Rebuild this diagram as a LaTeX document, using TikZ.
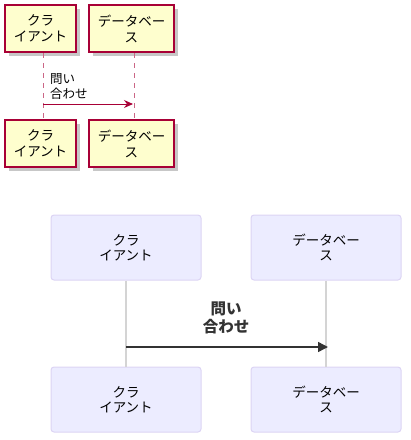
\documentclass[tikz,border=0pt]{standalone}
\usepackage{fontspec}
\setmainfont{Noto Sans CJK JP}
\usetikzlibrary{arrows.meta}
\definecolor{pubor}{HTML}{A80036}
\definecolor{pufill}{HTML}{FEFECE}
\definecolor{mefill}{HTML}{ECECFF}
\definecolor{meline}{HTML}{DCD4F4}
\definecolor{megray}{HTML}{D4D4D4}
\definecolor{medark}{HTML}{333333}
\tikzset{
  puact/.style={draw=pubor, line width=1.3pt, fill=pufill, align=center, font=\fontsize{13.5}{16}\selectfont, inner sep=0pt},
  pulife/.style={draw=pubor!60, line width=1pt, dash pattern=on 5pt off 5pt},
  pumsg/.style={draw=pubor, line width=1pt, -{Stealth[length=9pt,width=8pt,inset=3pt]}},
  meact/.style={draw=meline, line width=1pt, fill=mefill, rounded corners=3pt, align=center, font=\fontsize{13.5}{15}\selectfont, inner sep=0pt},
  melife/.style={draw=megray, line width=1.2pt},
  memsg/.style={draw=medark, line width=1.5pt, -{Triangle[length=10pt,width=10pt]}},
}
\begin{document}
\begin{tikzpicture}[x=1pt,y=-1pt]
\useasboundingbox (0,0) rectangle (411,440);
% ---- top (PlantUML style) ----
\foreach \a/\b/\c/\d in {5/5/76/52, 89/5/174/52, 5/120/76/167, 89/120/174/167}{
  \fill[black!22] (\a+4,\b+4) rectangle (\c+4,\d+4);
}
\node[puact, minimum width=71pt, minimum height=47pt] (ta) at (40.5,28.5) {クラ\\イアント};
\node[puact, minimum width=85pt, minimum height=47pt] (tb) at (131.5,28.5) {データベー\\ス};
\node[puact, minimum width=71pt, minimum height=47pt] (ta2) at (40.5,143.5) {クラ\\イアント};
\node[puact, minimum width=85pt, minimum height=47pt] (tb2) at (131.5,143.5) {データベー\\ス};
\coordinate (la1) at (43,53);
\coordinate (la2) at (43,119);
\coordinate (lb1) at (134,53);
\coordinate (lb2) at (134,119);
\draw[pulife] (la1) -- (la2);
\draw[pulife] (lb1) -- (lb2);
\coordinate (m1) at (43,104);
\coordinate (m2) at (133,104);
\draw[pumsg] (m1) -- (m2);
\node[anchor=north west, align=left, inner sep=0pt, font=\fontsize{12.5}{15}\selectfont] (tl) at (50,73) {問い\\合わせ};
% ---- bottom (Mermaid style) ----
\node[meact, minimum width=150pt, minimum height=65pt] (ba) at (126,247.5) {クラ\\イアント};
\node[meact, minimum width=150pt, minimum height=65pt] (bb) at (326,247.5) {データベー\\ス};
\node[meact, minimum width=150pt, minimum height=65pt] (ba2) at (126,399.5) {クラ\\イアント};
\node[meact, minimum width=150pt, minimum height=65pt] (bb2) at (326,399.5) {データベー\\ス};
\draw[melife] (ba.south) -- (ba2.north);
\draw[melife] (bb.south) -- (bb2.north);
\coordinate (n1) at (126,347);
\coordinate (n2) at (328,347);
\draw[memsg] (n1) -- (n2);
\node[align=center, inner sep=0pt, text=medark, font=\bfseries\fontsize{15.5}{17.5}\selectfont] (bl) at (226,318) {問い\\合わせ};
\end{tikzpicture}
\end{document}
